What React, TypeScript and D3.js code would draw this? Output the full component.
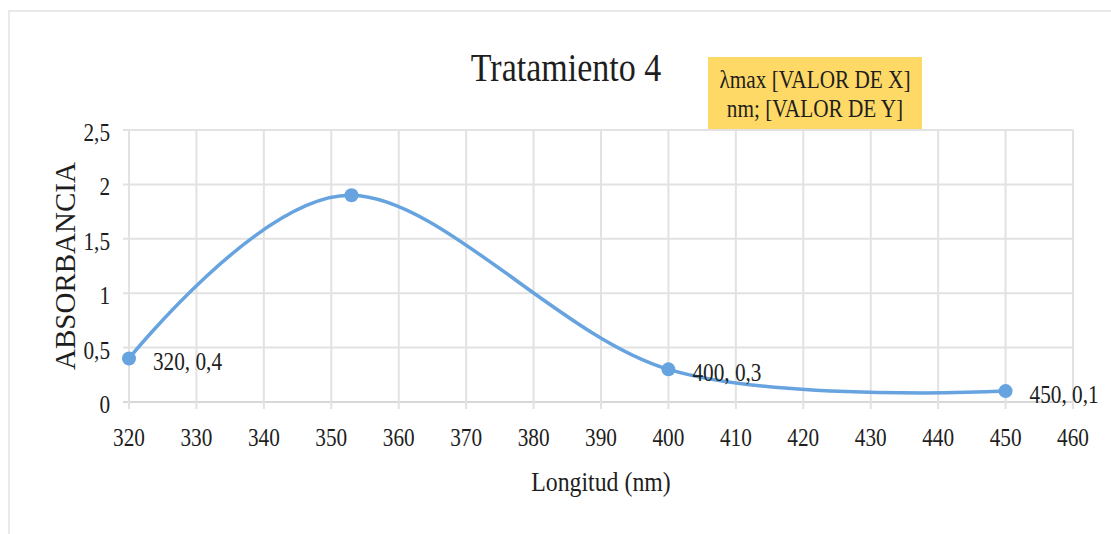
import React from "react";
import * as d3 from "d3";

const wavelengths = [320, 353, 400, 450];
const absorbance = [0.4, 1.9, 0.3, 0.1];
const pointLabels = ["320, 0,4", "", "400, 0,3", "450, 0,1"];
const xTicks = [320, 330, 340, 350, 360, 370, 380, 390, 400, 410, 420, 430, 440, 450, 460];
const yTicks = [0, 0.5, 1, 1.5, 2, 2.5];
const yTickLabels = ["0", "0,5", "1", "1,5", "2", "2,5"];
const titleText = "Tratamiento 4";
const xTitle = "Longitud (nm)";
const yTitle = "ABSORBANCIA";
const calloutLines = ["λmax [VALOR DE X]", "nm; [VALOR DE Y]"];

const W = 1111;
const H = 534;
const FONT = "'Liberation Serif', 'Times New Roman', serif";
const SX = 0.85;
const TEXT = "#1e1e1e";
const BLUE = "#66a3df";
const GRID = "#e2e2e2";

const x = d3.scaleLinear().domain([320, 460]).range([129, 1073]);
const y = d3.scaleLinear().domain([0, 2.5]).range([402, 130]);

function T(props: {
  x: number;
  y: number;
  size: number;
  anchor?: "start" | "middle" | "end";
  children: React.ReactNode;
}) {
  return (
    <text
      transform={`translate(${props.x},${props.y}) scale(${SX},1)`}
      fontFamily={FONT}
      fontSize={props.size}
      fill={TEXT}
      textAnchor={props.anchor || "start"}
    >
      {props.children}
    </text>
  );
}

export default function App() {
  const pts = wavelengths.map((w, i) => [x(w), y(absorbance[i])] as [number, number]);
  const line = d3.line().curve(d3.curveCardinal.tension(0))(pts) || "";
  return (
    <svg
      width={W}
      height={H}
      style={{ position: "absolute", left: 0, top: 0, background: "#fff" }}
    >
      <rect x={9} y={11} width={1200} height={600} fill="#fff" stroke="#e9e9e9" strokeWidth={2} />
      {/* gridlines */}
      {yTicks.map((t) => (
        <line key={"h" + t} x1={123} x2={x(460)} y1={y(t)} y2={y(t)} stroke={t === 0 ? "#d8d8d8" : GRID} strokeWidth={2} />
      ))}
      {xTicks.map((t) => (
        <line key={"v" + t} x1={x(t)} x2={x(t)} y1={y(2.5)} y2={y(0) + 7} stroke={GRID} strokeWidth={2} />
      ))}
      {/* y tick labels */}
      {yTicks.map((t, i) => (
        <T key={"yl" + t} x={110} y={y(t) + 11} size={25} anchor="end">
          {yTickLabels[i]}
        </T>
      ))}
      {/* x tick labels */}
      {xTicks.map((t) => (
        <T key={"xl" + t} x={x(t)} y={446} size={25} anchor="middle">
          {t}
        </T>
      ))}
      {/* series */}
      <path d={line} fill="none" stroke={BLUE} strokeWidth={3.5} strokeLinecap="round" />
      {pts.map((p, i) => (
        <circle key={"c" + i} cx={p[0]} cy={p[1]} r={7} fill={BLUE} />
      ))}
      {pts.map((p, i) =>
        pointLabels[i] ? (
          <T key={"pl" + i} x={p[0] + 24} y={p[1] + 12} size={25}>
            {pointLabels[i]}
          </T>
        ) : null
      )}
      {/* title */}
      <T x={566} y={81} size={40} anchor="middle">
        {titleText}
      </T>
      {/* callout */}
      <rect x={708} y={57} width={214} height={72} fill="#ffd966" />
      <T x={815} y={88} size={25} anchor="middle">
        {calloutLines[0]}
      </T>
      <T x={815} y={117} size={25} anchor="middle">
        {calloutLines[1]}
      </T>
      {/* axis titles */}
      <T x={601} y={491} size={28} anchor="middle">
        {xTitle}
      </T>
      <text
        transform={`translate(75,266) rotate(-90)`}
        fontFamily={FONT}
        fontSize={29}
        fill={TEXT}
        textAnchor="middle"
      >
        {yTitle}
      </text>
    </svg>
  );
}
